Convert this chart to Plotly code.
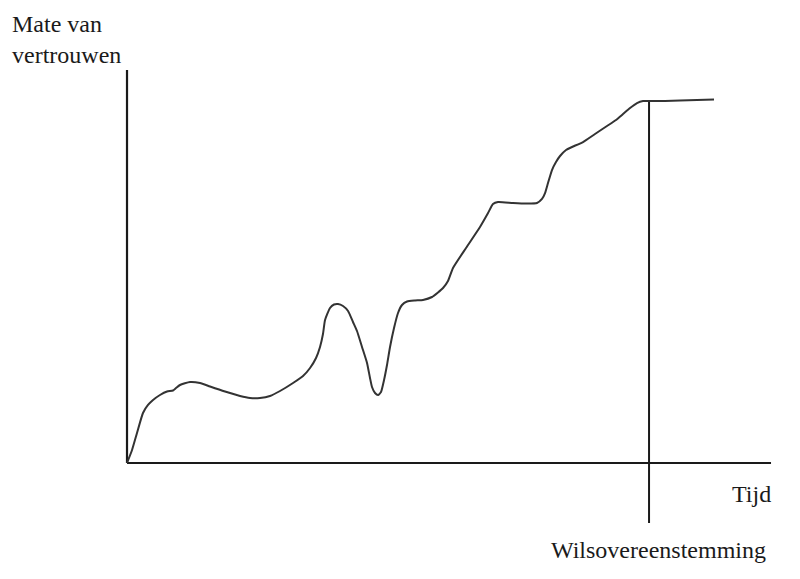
import plotly.graph_objects as go

# trust curve (time 0-100, trust 0-100)
TIME = [0, 0.78, 1.55, 2.48, 3.26, 4.04, 5.12, 6.21, 7.14, 7.61, 8.23, 9.78, 11.34, 12.89,
        15.22, 17.55, 19.10, 20.65, 22.20, 23.76, 25.78, 27.33, 28.42, 29.35, 29.97, 30.43,
        30.75, 31.52, 32.14, 32.76, 33.54, 34.32, 35.09, 35.71, 36.49, 37.27, 37.73, 38.04,
        38.51, 38.98, 39.44, 39.91, 40.37, 40.84, 41.46, 42.08, 42.70, 43.48, 44.72, 45.96,
        47.36, 49.07, 49.84, 50.62, 52.64, 54.81, 56.06, 56.83, 57.61, 59.94, 62.11, 63.66,
        64.44, 64.91, 65.37, 65.99, 66.61, 67.24, 68.17, 69.10, 70.81, 72.67, 74.53, 75.93,
        77.02, 78.11, 79.19, 80.12, 81.06, 83.54, 85.87, 88.51, 91.15]
TRUST = [0, 3.31, 7.63, 12.72, 14.76, 16.03, 17.30, 18.19, 18.45, 19.08, 19.85, 20.61, 20.36,
         19.47, 18.19, 17.05, 16.54, 16.54, 17.05, 18.32, 20.36, 22.14, 24.17, 26.72, 29.52,
         32.82, 36.39, 39.44, 40.33, 40.46, 39.95, 38.68, 35.88, 33.59, 29.52, 25.45, 21.63,
         19.34, 17.81, 17.30, 18.07, 21.12, 24.94, 29.52, 34.35, 38.17, 40.20, 41.09, 41.35,
         41.48, 42.24, 44.53, 46.31, 49.62, 54.71, 60.05, 63.61, 65.90, 66.41, 66.16, 66.03,
         66.16, 67.18, 68.70, 71.25, 74.55, 76.59, 78.12, 79.64, 80.41, 81.68, 83.72, 85.75,
         87.28, 88.80, 90.33, 91.60, 92.11, 92.11, 92.11, 92.24, 92.37, 92.49]

AXIS_TIME = [0, 100]
AXIS_TRUST = [0, 100]
AGREEMENT_TIME = 81.06
AGREEMENT_TRUST = [92.11, -15.3]

INK = "#1a1a1a"
CURVE = "#333333"
FONT = dict(family="'Liberation Serif', 'Times New Roman', serif", size=24, color=INK)

# the page body has an 8px margin, so the figure is 792x571 and placed from (8, 8)
W, H, OFF = 792, 571, 8


def px(x, y):
    return (x - OFF) / W, 1 - (y - OFF) / H


fig = go.Figure()
fig.add_trace(go.Scatter(x=AXIS_TIME, y=[0, 0], mode="lines",
                         line=dict(color=INK, width=2.2), hoverinfo="skip"))
fig.add_trace(go.Scatter(x=[0, 0], y=AXIS_TRUST, mode="lines",
                         line=dict(color=INK, width=2.2), hoverinfo="skip"))
fig.add_trace(go.Scatter(x=[AGREEMENT_TIME, AGREEMENT_TIME], y=AGREEMENT_TRUST, mode="lines",
                         line=dict(color=INK, width=2), hoverinfo="skip"))
fig.add_trace(go.Scatter(x=TIME, y=TRUST, mode="lines",
                         line=dict(color=CURVE, width=2, shape="spline", smoothing=0.5),
                         hovertemplate="tijd %{x:.1f}<br>vertrouwen %{y:.1f}<extra></extra>"))

labels = [
    ("Mate van<br>vertrouwen", 10, 9, "left", "top", "left"),
    ("Tijd", 773, 494, "right", "middle", "right"),
    ("Wilsovereenstemming", 658, 550, "center", "middle", "center"),
]
annotations = []
for text, x, y, xa, ya, al in labels:
    ax, ay = px(x, y)
    annotations.append(dict(text=text, x=ax, y=ay, xref="paper", yref="paper",
                            xanchor=xa, yanchor=ya, align=al, showarrow=False))

fig.update_layout(
    width=W, height=H,
    paper_bgcolor="white", plot_bgcolor="white",
    margin=dict(l=0, r=0, t=0, b=0),
    font=FONT,
    showlegend=False,
    xaxis=dict(range=[-18.48, 104.50], visible=False),
    yaxis=dict(range=[-29.52, 115.78], visible=False),
    annotations=annotations,
)

fig.write_html("out.html")
